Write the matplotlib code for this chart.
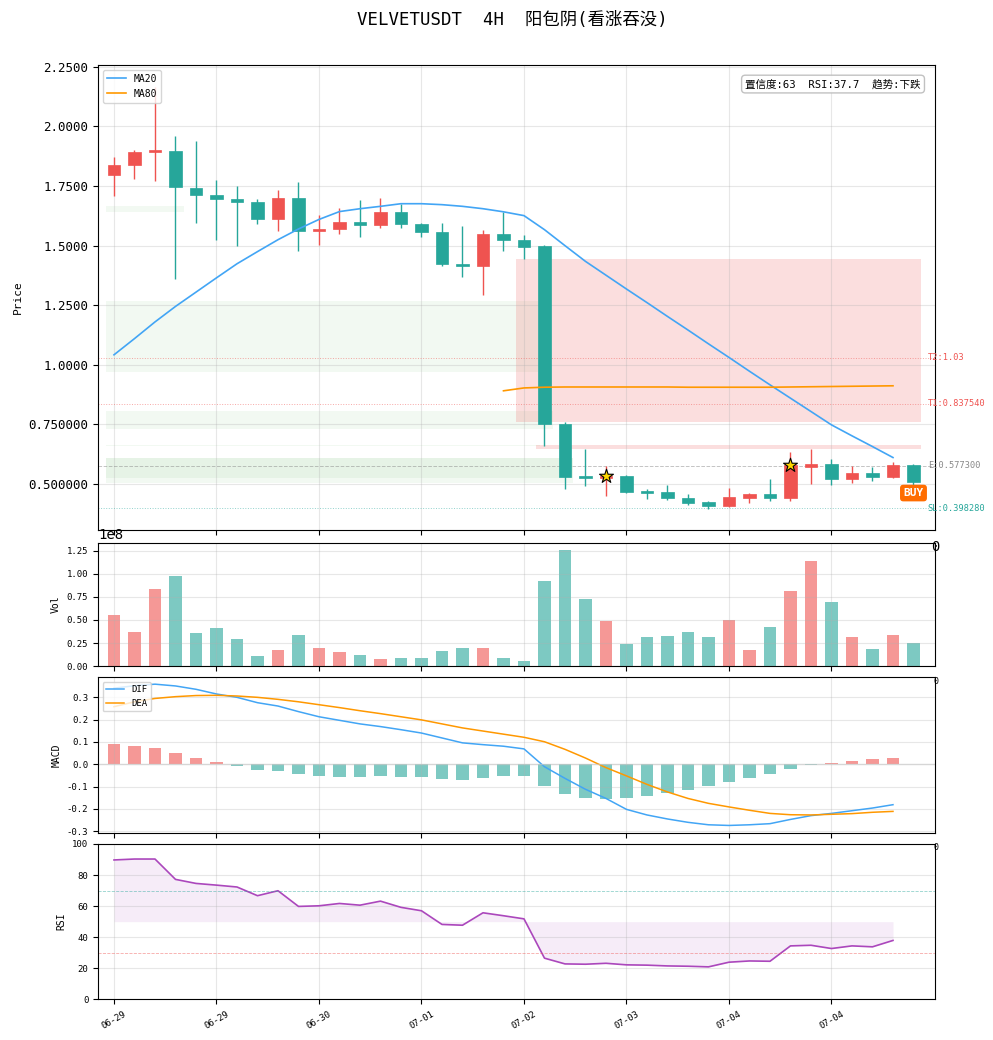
import numpy as np
import matplotlib
matplotlib.use('Agg')
import matplotlib.pyplot as plt

plt.rcParams['font.family'] = ['DejaVu Sans Mono', 'Noto Sans CJK SC']
plt.rcParams['axes.unicode_minus'] = False

# ---------------- data ----------------
opens = [1.795, 1.838, 1.894, 1.899, 1.744, 1.714, 1.697, 1.684, 1.611, 1.702,
         1.560, 1.570, 1.600, 1.587, 1.642, 1.591, 1.557, 1.423, 1.413, 1.550,
         1.525, 1.497, 0.751, 0.534, 0.524, 0.534, 0.471, 0.465, 0.440, 0.424,
         0.406, 0.443, 0.457, 0.443, 0.573, 0.583, 0.520, 0.545, 0.528, 0.580]
highs = [1.874, 1.903, 2.165, 1.958, 1.941, 1.777, 1.749, 1.697, 1.735, 1.769,
         1.630, 1.660, 1.693, 1.702, 1.675, 1.595, 1.595, 1.581, 1.566, 1.640,
         1.546, 1.501, 0.758, 0.647, 0.577, 0.537, 0.481, 0.495, 0.458, 0.430,
         0.484, 0.461, 0.521, 0.636, 0.647, 0.605, 0.577, 0.570, 0.591, 0.584]
lows = [1.707, 1.779, 1.770, 1.358, 1.594, 1.525, 1.500, 1.592, 1.563, 1.476,
        1.501, 1.548, 1.535, 1.573, 1.573, 1.535, 1.413, 1.367, 1.291, 1.476,
        1.444, 0.661, 0.479, 0.493, 0.451, 0.462, 0.435, 0.433, 0.412, 0.393,
        0.403, 0.422, 0.430, 0.430, 0.500, 0.496, 0.505, 0.514, 0.524, 0.496]
closes = [1.839, 1.894, 1.902, 1.747, 1.711, 1.695, 1.682, 1.611, 1.702, 1.560,
          1.570, 1.600, 1.587, 1.642, 1.591, 1.557, 1.423, 1.413, 1.550, 1.522,
          1.494, 0.751, 0.531, 0.524, 0.534, 0.467, 0.463, 0.440, 0.422, 0.406,
          0.444, 0.457, 0.443, 0.579, 0.583, 0.520, 0.545, 0.528, 0.580, 0.509]
volumes_e8 = [0.550, 0.366, 0.840, 0.981, 0.355, 0.409, 0.291, 0.108, 0.172, 0.334,
              0.194, 0.151, 0.119, 0.075, 0.086, 0.086, 0.162, 0.194, 0.194, 0.086,
              0.054, 0.927, 1.260, 0.730, 0.485, 0.237, 0.310, 0.330, 0.365, 0.320,
              0.505, 0.170, 0.420, 0.820, 1.140, 0.700, 0.320, 0.180, 0.334, 0.248]

ma20 = [1.042, 1.110, 1.180, 1.245, 1.305, 1.365, 1.424, 1.475, 1.525, 1.570,
        1.610, 1.643, 1.655, 1.665, 1.676, 1.676, 1.672, 1.665, 1.655, 1.642,
        1.626, 1.567, 1.500, 1.434, 1.376, 1.318, 1.261, 1.203, 1.146, 1.088,
        1.031, 0.973, 0.916, 0.860, 0.804, 0.748, 0.702, 0.657, 0.611]
ma80 = [np.nan] * 19 + [0.891, 0.903, 0.906, 0.907, 0.907, 0.907, 0.907, 0.907,
                        0.907, 0.906, 0.906, 0.906, 0.906, 0.906, 0.907, 0.908,
                        0.909, 0.910, 0.911, 0.912]

dif = [0.341, 0.352, 0.359, 0.351, 0.336, 0.315, 0.300, 0.276, 0.261, 0.236,
       0.213, 0.197, 0.181, 0.169, 0.155, 0.140, 0.118, 0.096, 0.088, 0.081,
       0.069, -0.011, -0.063, -0.112, -0.153, -0.202, -0.227, -0.245, -0.260, -0.271,
       -0.274, -0.271, -0.266, -0.247, -0.230, -0.220, -0.208, -0.196, -0.181]
dea = [0.258, 0.280, 0.295, 0.303, 0.308, 0.309, 0.306, 0.300, 0.291, 0.280,
       0.267, 0.254, 0.240, 0.227, 0.213, 0.199, 0.181, 0.163, 0.149, 0.135,
       0.121, 0.101, 0.067, 0.028, -0.015, -0.052, -0.090, -0.124, -0.153, -0.175,
       -0.191, -0.206, -0.220, -0.226, -0.227, -0.224, -0.221, -0.215, -0.211]
macd_hist = [0.091, 0.082, 0.073, 0.051, 0.028, 0.010, -0.007, -0.024, -0.028, -0.042,
             -0.051, -0.055, -0.055, -0.051, -0.055, -0.055, -0.064, -0.069, -0.060, -0.051,
             -0.051, -0.096, -0.132, -0.149, -0.154, -0.149, -0.141, -0.127, -0.114, -0.096,
             -0.078, -0.060, -0.042, -0.019, -0.003, 0.006, 0.015, 0.024, 0.028]
rsi = [89.7, 90.3, 90.3, 77.2, 74.6, 73.5, 72.3, 66.7, 69.9, 59.8,
       60.2, 61.7, 60.6, 63.2, 59.2, 57.0, 48.2, 47.7, 55.7, 53.8,
       51.8, 26.5, 22.8, 22.6, 23.2, 22.2, 22.0, 21.5, 21.3, 20.9,
       23.9, 24.7, 24.5, 34.4, 34.8, 32.7, 34.4, 33.8, 37.9]

tick_idx = [0, 5, 10, 15, 20, 25, 30, 35]
tick_labels = ['06-29', '06-29', '06-30', '07-01', '07-02', '07-03', '07-04', '07-04']

# support (green) and resistance (red) zones: (start idx, end idx, low, high)
green_zones = [(-0.39, 3.4, 1.640, 1.668), (-0.39, 20.7, 0.968, 1.269),
               (-0.39, 21.4, 0.732, 0.807), (-0.39, 20.8, 0.659, 0.663),
               (-0.39, 22.4, 0.505, 0.609), (-0.39, 22.4, 0.525, 0.609)]
red_zones = [(19.6, 39.35, 0.758, 1.445), (20.6, 39.35, 0.648, 0.664)]

levels = [('T2', 1.03, '1.03'), ('T1', 0.83754, '0.837540'),
          ('E', 0.5773, '0.577300'), ('SL', 0.39828, '0.398280')]
star_idx = [24, 33]
buy_idx = 39
buy_price = 0.462
title = 'VELVETUSDT  4H  阳包阴(看涨吞没)'
info = '置信度:63  RSI:37.7  趋势:下跌'

# ---------------- style ----------------
UP = '#ef5350'
DN = '#26a69a'
level_colors = {'T2': '#ef5350', 'T1': '#ef5350', 'E': '#888888', 'SL': '#26a69a'}
level_ls = {'T2': ':', 'T1': ':', 'E': '--', 'SL': ':'}

o = np.array(opens); h = np.array(highs); l = np.array(lows); c = np.array(closes)
n = len(o)
x = np.arange(n)
cols = np.where(c >= o, UP, DN)

fig = plt.figure(figsize=(9.93, 10.40), dpi=100)
L, W = 0.0987, 0.8429
ax1 = fig.add_axes([L, 0.4904, W, 0.4471])
ax2 = fig.add_axes([L, 0.3596, W, 0.1186], sharex=ax1)
ax3 = fig.add_axes([L, 0.1990, W, 0.1498], sharex=ax1)
ax4 = fig.add_axes([L, 0.0391, W, 0.1494], sharex=ax1)

# ---- main panel ----
for x0, x1, y0, y1 in green_zones:
    ax1.fill_between([x0, x1], y0, y1, color='#4caf50', alpha=0.07, lw=0, zorder=1)
for x0, x1, y0, y1 in red_zones:
    ax1.fill_between([x0, x1], y0, y1, color=UP, alpha=0.19, lw=0, zorder=1)

ax1.vlines(x, l, h, colors=cols, lw=1.0, zorder=3)
body_h = np.maximum(np.abs(c - o), 0.006)
ax1.bar(x, body_h, bottom=np.minimum(o, c), width=0.6, color=cols,
        edgecolor=cols, lw=0.5, zorder=4)

xm = np.arange(len(ma20))
ax1.plot(xm, ma20, color='#42a5f5', lw=1.2, label='MA20', zorder=5)
ax1.plot(xm, ma80, color='#ff9800', lw=1.2, label='MA80', zorder=5)

for name, val, txt in levels:
    ax1.axhline(val, color=level_colors[name], ls=level_ls[name], lw=0.7, alpha=0.5, zorder=2)
    ax1.text(39.7, val, f'{name}:{txt}', color=level_colors[name], fontsize=6.2,
             va='center', ha='left', clip_on=False, zorder=7)

ax1.scatter(star_idx, c[star_idx], marker='*', s=110, c='#ffd700',
            edgecolors='black', linewidths=0.8, zorder=8)
ax1.text(buy_idx, buy_price, 'BUY', color='white', fontsize=8, fontweight='bold',
         ha='center', va='center', zorder=9,
         bbox=dict(boxstyle='round,pad=0.3', fc='#ff6d00', ec='none'))
ax1.text(0.983, 0.959, info, transform=ax1.transAxes, ha='right', va='center',
         fontsize=7.6, zorder=9,
         bbox=dict(boxstyle='round,pad=0.35', fc='white', ec='#bbbbbb', alpha=0.9))

ax1.set_ylim(0.307, 2.258)
yt = [0.5, 0.75, 1.0, 1.25, 1.5, 1.75, 2.0, 2.25]
ax1.set_yticks(yt)
ax1.set_yticklabels(['0.500000', '0.750000', '1.0000', '1.2500', '1.5000',
                     '1.7500', '2.0000', '2.2500'], fontsize=9)
ax1.set_ylabel('Price', fontsize=8)
ax1.legend(loc='upper left', fontsize=7, framealpha=0.8)

# ---- volume ----
ax2.bar(x, np.array(volumes_e8) * 1e8, width=0.6, color=cols, alpha=0.6)
ax2.set_ylim(0, 1.34e8)
ax2.set_ylabel('Vol', fontsize=7)

# ---- MACD ----
xh = np.arange(len(macd_hist))
hist = np.array(macd_hist)
ax3.bar(xh, hist, width=0.6, color=np.where(hist >= 0, UP, DN), alpha=0.6)
ax3.plot(xh, dif, color='#42a5f5', lw=1.1, label='DIF')
ax3.plot(xh, dea, color='#ff9800', lw=1.1, label='DEA')
ax3.axhline(0, color='#cccccc', lw=1.0, alpha=0.6)
ax3.set_ylim(-0.308, 0.39)
ax3.set_ylabel('MACD', fontsize=7)
ax3.legend(loc='upper left', fontsize=6.5, framealpha=0.8)

# ---- RSI ----
xr = np.arange(len(rsi))
ax4.plot(xr, rsi, color='#ab47bc', lw=1.2)
ax4.fill_between(xr, rsi, 50, color='#ab47bc', alpha=0.1, lw=0)
ax4.axhline(70, color=DN, ls='--', lw=0.6, alpha=0.5)
ax4.axhline(30, color=UP, ls='--', lw=0.6, alpha=0.5)
ax4.set_ylim(0, 100)
ax4.set_yticks([0, 20, 40, 60, 80, 100])
ax4.set_ylabel('RSI', fontsize=7)

for ax in (ax1, ax2, ax3, ax4):
    ax.grid(True, alpha=0.3)
    ax.set_xlim(-0.78, 40.05)
for ax in (ax2, ax3, ax4):
    ax.tick_params(axis='y', labelsize=6.5)
for ax in (ax1, ax2, ax3):
    ax.tick_params(axis='x', labelbottom=False)

ax4.set_xticks(tick_idx)
ax4.set_xticklabels(tick_labels, rotation=30, fontsize=6.5)

fig.text(512 / 993, 1 - 20 / 1040, title, fontsize=12.5, ha='center', va='center')

# small stray tick-label remnants at right edge of upper panels
fig.text(931 / 993, 1 - 547 / 1040, '0', fontsize=10, va='center', ha='left')
fig.text(933 / 993, 1 - 681 / 1040, '0', fontsize=6, va='center', ha='left')
fig.text(933 / 993, 1 - 847 / 1040, '0', fontsize=6, va='center', ha='left')

fig.savefig('out.png', dpi=100)
